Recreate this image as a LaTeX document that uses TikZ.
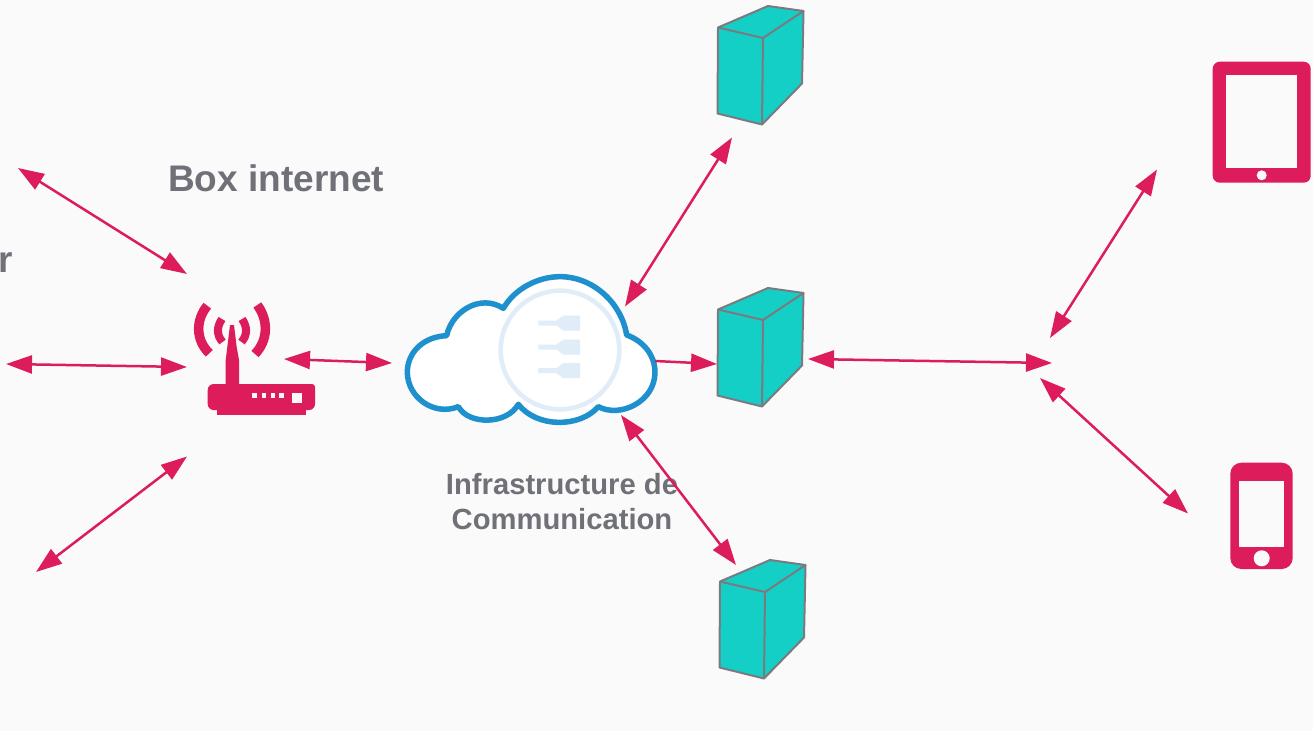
\documentclass[tikz,border=0pt]{standalone}
\usepackage{fontspec}
\setmainfont{Liberation Sans}
\usetikzlibrary{arrows.meta}
\definecolor{bgc}{HTML}{FAFAFA}
\definecolor{pinkc}{HTML}{DC1C5B}
\definecolor{tealc}{HTML}{14CFC6}
\definecolor{edgec}{HTML}{7A7A80}
\definecolor{textc}{HTML}{707178}
\definecolor{cloudc}{HTML}{1E90CD}
\definecolor{palec}{HTML}{E0EDF8}
\tikzset{
  link/.style={draw=pinkc,line width=2.5pt,{Triangle[length=26pt,width=18pt,fill=pinkc]}-{Triangle[length=26pt,width=18pt,fill=pinkc]}},
  oneway/.style={draw=pinkc,line width=2.5pt,-{Triangle[length=26pt,width=18pt,fill=pinkc]}},
  wave/.style={draw=pinkc,line cap=butt},
  label/.style={text=textc,font=\bfseries,inner sep=0pt,align=center},
  server/.pic={
    \draw[fill=tealc,draw=edgec,line width=2pt,line join=round]
      (18,27.5)--(68,6)--(103.5,11)--(102,83.5)--(62,124.5)--(17.5,113.5)--cycle;
    \draw[draw=edgec,line width=2pt,line join=round] (18,27.5)--(63,38)--(103.5,11) (63,38)--(62,124.5);
  },
  plug/.pic={
    \fill[palec] (0,0)--(18.3,0)--(25,-5)--(41.7,-5)--(41.7,10)--(25,10)--(18.3,5)--(0,5)--cycle;
  }
}
\begin{document}
\begin{tikzpicture}[x=1pt,y=-1pt]
\useasboundingbox (0,0) rectangle (1313,731);
\clip (0,0) rectangle (1313,731);
\fill[bgc] (0,0) rectangle (1313,731);

% servers
\pic at (700,0) {server};
\pic at (700,282) {server};
\pic at (702,554) {server};

% router
\fill[pinkc,rounded corners=3pt] (207.7,384) -- (315,384) -- (315,400) [rounded corners=6pt] -- (315,410) -- (216.7,410) -- (207.7,410) -- cycle;
\fill[pinkc] (216.7,405) rectangle (306,415);
\fill[pinkc] (230,325) -- (234,325) -- (236.7,347) -- (239,360) -- (239,386) -- (225.7,386) -- (225.7,360) -- (227.3,347) -- cycle;
\fill[bgc] (252.3,393.3) rectangle +(4.3,4.3);
\fill[bgc] (261.7,393.3) rectangle +(4.3,4.3);
\fill[bgc] (270.7,393.3) rectangle +(4.3,4.3);
\fill[bgc] (279.3,393.3) rectangle +(4.3,4.3);
\fill[bgc] (292.3,393.3) rectangle +(9.3,9.3);
\draw[wave,line width=9.5pt] (207.3,305.7) .. controls (195.5,320) and (195.5,340) .. (209.3,353.3);
\draw[wave,line width=9.5pt] (257.3,305) .. controls (268.4,320) and (268.4,340) .. (255,354);
\draw[wave,line width=8pt] (222,319) .. controls (216.5,327) and (216.5,335) .. (222.5,342);
\draw[wave,line width=8pt] (242,319) .. controls (247.5,327) and (247.5,335) .. (241.5,342);

% cloud
\begin{scope}[shift={(400,265)},x=0.3333pt,y=-0.3333pt]
\draw[fill=white,draw=cloudc,line width=5.5pt,line join=round]
  (140,212) .. controls (155,140) and (240,85) .. (310,130)
  .. controls (345,70) and (415,35) .. (480,35)
  .. controls (580,35) and (665,115) .. (680,210)
  .. controls (730,228) and (765,270) .. (765,322)
  .. controls (765,410) and (660,460) .. (595,425)
  .. controls (540,489) and (410,489) .. (355,418)
  .. controls (320,480) and (205,480) .. (175,425)
  .. controls (100,455) and (22,395) .. (22,322)
  .. controls (22,262) and (70,215) .. (140,212) -- cycle;
\draw[draw=palec,line width=4.5pt] (480,255) circle[radius=178];
\end{scope}
\pic at (538.3,320.5) {plug};
\pic at (538.3,344.5) {plug};
\pic at (538.3,368.2) {plug};

% tablet
\fill[pinkc,rounded corners=7pt] (1212.7,61.7) rectangle (1310.7,182.7);
\fill[bgc] (1226,75) rectangle (1297.3,168.3);
\fill[bgc] (1261.7,175.3) circle[radius=5];

% phone
\fill[pinkc,rounded corners=11pt] (1230.3,462.7) rectangle (1292.7,569);
\fill[bgc] (1239.3,480.7) rectangle (1284,546.7);
\fill[bgc] (1261.7,558.3) circle[radius=8];

% labels
\node[label,font=\bfseries\fontsize{37}{42}\selectfont] (boxlabel) at (276,178) {Box internet};
\node[label,font=\bfseries\fontsize{37}{42}\selectfont,anchor=base west] (cutlabel) at (-2,272) {r};
\node[label,font=\bfseries\fontsize{29.2}{35}\selectfont] (infralabel) at (562,502) {Infrastructure de\\Communication};

% connector ends
\coordinate (a1) at (18,168);   \coordinate (r1) at (187,274);
\coordinate (a2) at (6,364);    \coordinate (r2) at (187,367);
\coordinate (a3) at (36,572);   \coordinate (r3) at (187,456.5);
\coordinate (r4) at (284,359);  \coordinate (c4) at (392,363);
\coordinate (s5) at (732,137.5);\coordinate (c5) at (625,306.5);
\coordinate (c6) at (655,361);  \coordinate (s6) at (717,364);
\coordinate (c7) at (621,415);  \coordinate (s7) at (736,565);
\coordinate (s8) at (808,359);  \coordinate (h8) at (1052,363);
\coordinate (t9) at (1157,169.5);\coordinate (h9) at (1050,338);
\coordinate (h10) at (1040,378);\coordinate (p10) at (1188,513.5);

\draw[link] (a1) -- (r1);
\draw[link] (a2) -- (r2);
\draw[link] (a3) -- (r3);
\draw[link] (r4) -- (c4);
\draw[link] (s5) -- (c5);
\draw[oneway] (c6) -- (s6);
\draw[link] (c7) -- (s7);
\draw[link] (s8) -- (h8);
\draw[link] (t9) -- (h9);
\draw[link] (h10) -- (p10);
\end{tikzpicture}
\end{document}
